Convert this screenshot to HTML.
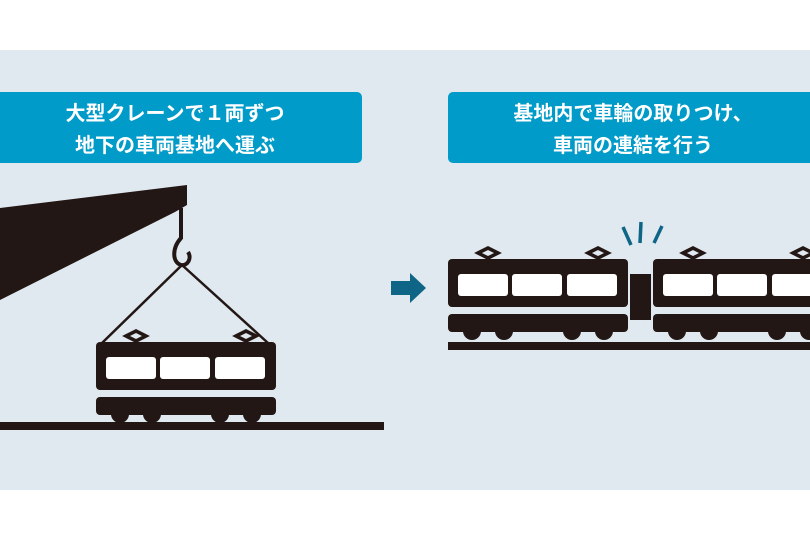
<!DOCTYPE html>
<html><head><meta charset="utf-8"><style>
html,body{margin:0;padding:0;background:#fff;}
svg{display:block;}
text{font-family:"Liberation Sans","Noto Sans CJK JP",sans-serif;font-weight:bold;fill:#fff;font-size:20px;}
</style></head><body>
<svg width="810" height="540" viewBox="0 0 810 540" xmlns="http://www.w3.org/2000/svg">
<defs>
<g id="car">
  <path d="M30,-6 l10,-5 l10,5 l-10,5z M140,-6 l10,-5 l10,5 l-10,5z" fill="none" stroke="#221714" stroke-width="3.5"/>
  <rect x="0" y="0" width="180" height="48" rx="4" fill="#221714"/>
  <rect x="10" y="15" width="50" height="22" rx="3" fill="#fff"/>
  <rect x="64" y="15" width="50" height="22" rx="3" fill="#fff"/>
  <rect x="119" y="15" width="50" height="22" rx="3" fill="#fff"/>
  <rect x="0" y="55" width="180" height="18" rx="4" fill="#221714"/>
  <circle cx="24" cy="72" r="9" fill="#221714"/>
  <circle cx="56" cy="72" r="9" fill="#221714"/>
  <circle cx="124" cy="72" r="9" fill="#221714"/>
  <circle cx="156" cy="72" r="9" fill="#221714"/>
</g>
</defs>
<rect x="0" y="50" width="810" height="440" fill="#e1e9f0"/>
<rect x="-10" y="92" width="372" height="71" rx="5" fill="#009bc8"/>
<rect x="448" y="92" width="372" height="71" rx="5" fill="#009bc8"/>
<text x="175" y="120" text-anchor="middle">大型クレーンで１両ずつ</text>
<text x="175" y="152" text-anchor="middle">地下の車両基地へ運ぶ</text>
<text x="633" y="120" text-anchor="middle">基地内で車輪の取りつけ、</text>
<text x="633" y="152" text-anchor="middle">車両の連結を行う</text>
<polygon points="0,208 187,185 187,205 175,212 0,300" fill="#221714"/>
<path d="M181,208 L181,238 C172,248 172,262 181,265 C188,266 192,258 188,252" fill="none" stroke="#221714" stroke-width="4"/>
<line x1="182" y1="265" x2="102" y2="343" stroke="#221714" stroke-width="2.5"/>
<line x1="182" y1="265" x2="268" y2="343" stroke="#221714" stroke-width="2.5"/>
<use href="#car" x="96" y="342"/>
<rect x="0" y="422" width="384" height="8" fill="#221714"/>
<polygon points="391,281 410,281 410,273 426,288 410,303 410,295 391,295" fill="#0e6586"/>
<use href="#car" x="448" y="259"/>
<use href="#car" x="653" y="259"/>
<rect x="630" y="274" width="21" height="46" fill="#221714"/>
<rect x="448" y="342" width="362" height="8" fill="#221714"/>
<g stroke="#0e6586" stroke-width="3.5">
<line x1="623" y1="227" x2="631" y2="245"/>
<line x1="641" y1="222" x2="640" y2="243"/>
<line x1="662" y1="226" x2="654" y2="243"/>
</g>
</svg>
</body></html>
